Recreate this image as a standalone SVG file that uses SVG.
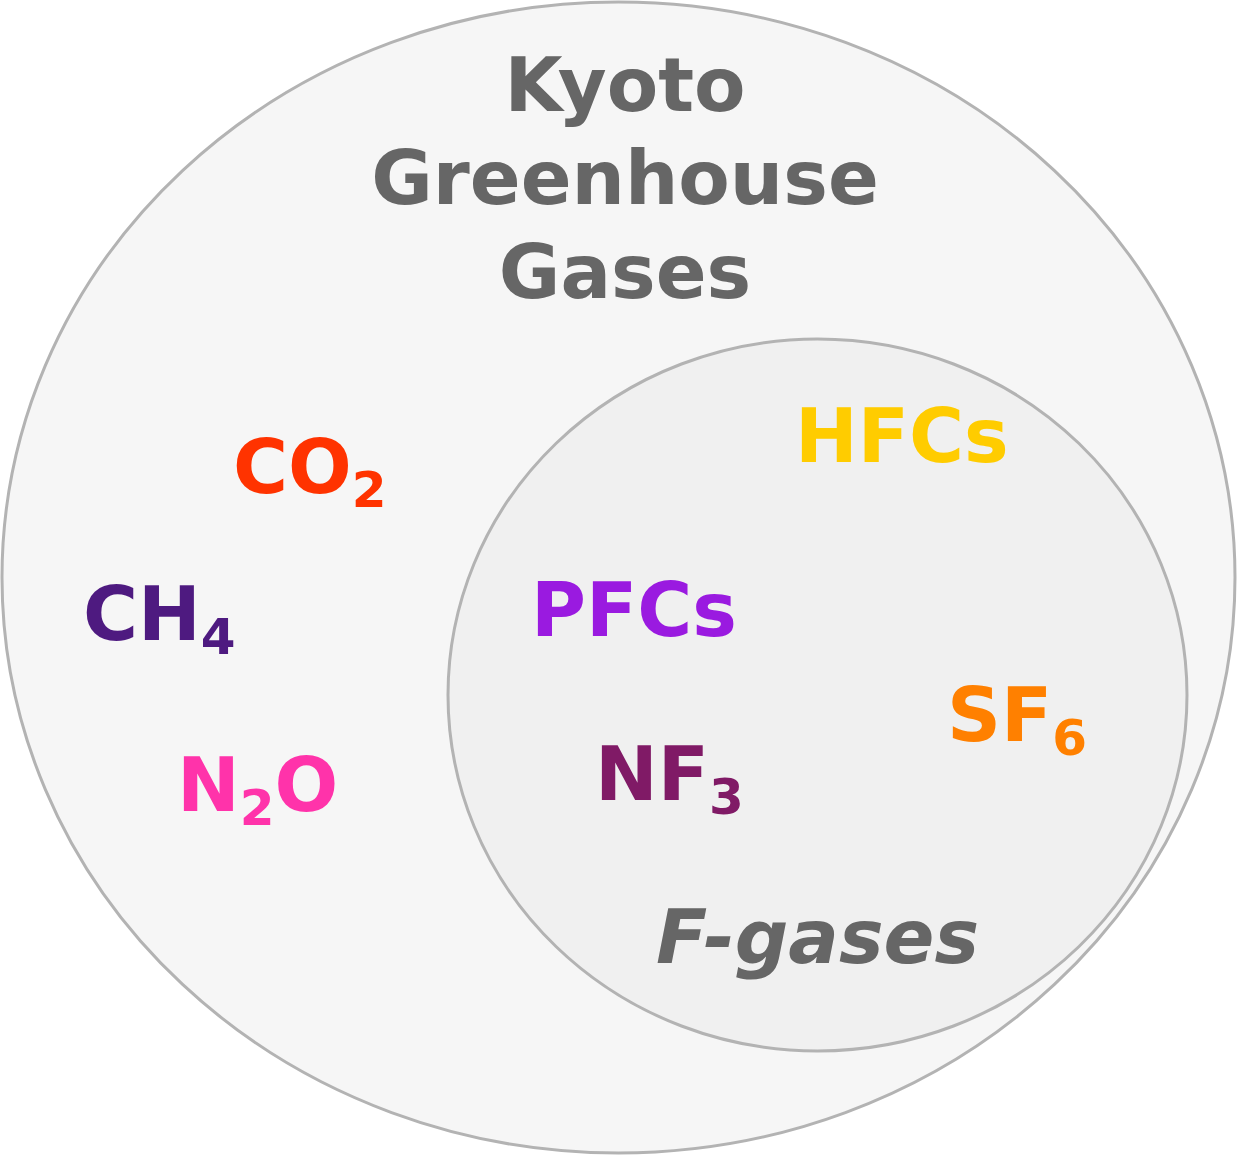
<svg xmlns="http://www.w3.org/2000/svg" width="1237" height="1155" viewBox="0 0 1237 1155">
<style>
.set{stroke:#b3b3b3;stroke-width:3}
text{font-family:"DejaVu Sans",sans-serif;font-weight:bold;font-size:75px}
.sub{font-size:50px}
</style>
<rect width="1237" height="1155" fill="#ffffff"/>
<g id="kyoto">
<ellipse class="set" cx="618.5" cy="577.5" rx="616.5" ry="575.5" fill="#f6f6f6"/>
<text fill="#666666" text-anchor="middle"><tspan x="625" y="111">Kyoto</tspan><tspan x="625" y="204">Greenhouse</tspan><tspan x="625" y="298">Gases</tspan></text>
</g>
<g id="fgases">
<ellipse class="set" cx="817.5" cy="695" rx="369.5" ry="356" fill="#f0f0f0"/>
<text x="656" y="963" fill="#666666" font-style="italic">F-gases</text>
</g>
<g id="co2"><text x="233" y="493" fill="#ff3300">CO<tspan class="sub" dy="14">2</tspan></text></g>
<g id="ch4"><text x="83" y="640" fill="#4e1a80">CH<tspan class="sub" dy="14">4</tspan></text></g>
<g id="n2o"><text x="177" y="811" fill="#ff33aa">N<tspan class="sub" dy="14">2</tspan><tspan dy="-14">O</tspan></text></g>
<g id="hfcs"><text x="795" y="462" fill="#ffcc00">HFCs</text></g>
<g id="pfcs"><text x="531" y="636" fill="#9a1ae0">PFCs</text></g>
<g id="sf6"><text x="947" y="741" fill="#ff8000">SF<tspan class="sub" dy="14">6</tspan></text></g>
<g id="nf3"><text x="595" y="800" fill="#801a66">NF<tspan class="sub" dy="14">3</tspan></text></g>
<g id="connectors"></g>
</svg>
